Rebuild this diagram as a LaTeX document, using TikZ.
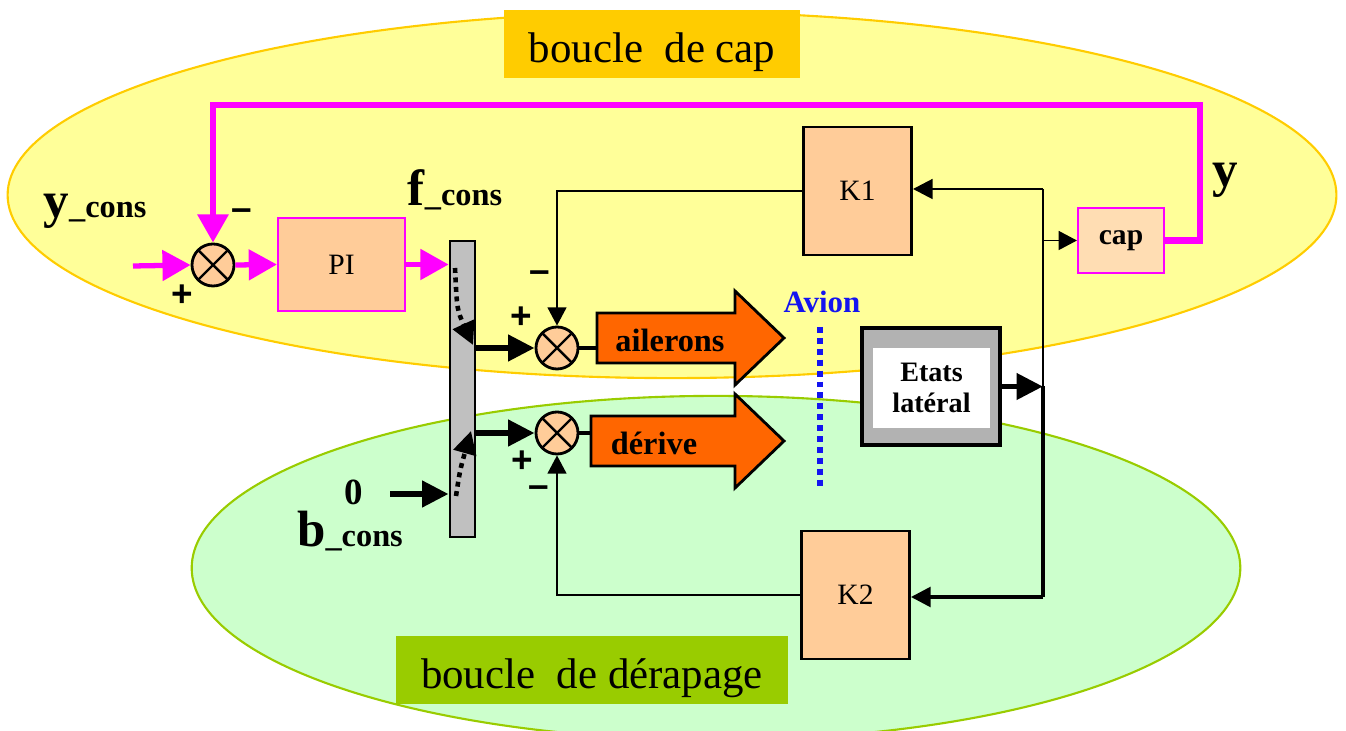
\documentclass[tikz,border=0pt]{standalone}
\usepackage{fontspec}
\setmainfont{Liberation Serif}
\newfontfamily\signfont{Liberation Sans}
\usetikzlibrary{
    arrows.meta,
    positioning,
    calc
}
\definecolor{capY}   {RGB}{255,255,153}
\definecolor{capEdge}{RGB}{255,204,  0}
\definecolor{derG}   {RGB}{204,255,204}
\definecolor{derEdge}{RGB}{153,204,  0}
\definecolor{mag}    {RGB}{255,  0,255}
\definecolor{peach}  {RGB}{255,204,153}
\definecolor{peachL} {RGB}{255,221,179}
\definecolor{surfC}  {RGB}{255,102,  0}
\definecolor{barG}   {RGB}{192,192,192}
\definecolor{etatG}  {RGB}{178,178,178}
\definecolor{avC}    {RGB}{ 20, 20,240}
\tikzset{
  gblock/.style = {draw, fill=peach, line width=0.8pt, minimum width=1.08cm,
                   minimum height=1.28cm, font=\fontsize{8.4}{10}\selectfont},
  mblock/.style = {draw=mag, line width=0.6pt, align=center},
  sumc/.style   = {draw, circle, fill=peach, line width=0.8pt, minimum size=0.42cm,
                   inner sep=0pt,
                   path picture={\draw[line width=0.7pt]
                     (path picture bounding box.north west) -- (path picture bounding box.south east)
                     (path picture bounding box.north east) -- (path picture bounding box.south west);}},
  tagbox/.style = {fill=#1, inner sep=0pt, text height=0.45cm, text depth=0.08cm,
                   font=\fontsize{12.2}{14}\selectfont},
  lbl/.style    = {font=\fontsize{9.2}{11}\selectfont\bfseries},
  sgn/.style    = {font=\signfont\bfseries\fontsize{10.5}{12}\selectfont},
  surftxt/.style= {font=\fontsize{9.2}{11}\selectfont\bfseries},
  arrm/.style   = {-{Triangle[length=8pt,width=8.5pt]}, mag, line width=1.5pt},
  arrk/.style   = {-{Triangle[length=7.5pt,width=7.2pt]}, line width=1.7pt},
  arrs/.style   = {-{Triangle[length=5.6pt,width=5.6pt]}, line width=0.8pt},
  arrt/.style   = {-{Triangle[length=5.2pt,width=5.4pt]}, line width=0.45pt},
  swdot/.style  = {line width=1.3pt, dash pattern=on 1.4pt off 1.3pt,
                   -{Triangle[length=6.5pt,width=6.5pt]}}
}
\newcommand{\bigch}[1]{{\fontsize{14.5}{14}\selectfont #1}}
% orange control-surface arrow: {left x}{centre y}{name}
\newcommand{\drawsurf}[3]{%
  \draw[fill=surfC, line width=0.8pt]
    (#1,#2-25) -- (735,#2-25) -- (735,#2-47) -- (784,#2)
    -- (735,#2+47) -- (735,#2+25) -- (#1,#2+25) -- cycle;
  \coordinate (#3) at (#1,#2);
}

\begin{document}
\begin{tikzpicture}[x=0.01cm, y=-0.01cm]
  \useasboundingbox (0,0) rectangle (1346,731);

  %% ── Loops ─────────────────────────────────────────────────────
  \filldraw[fill=capY, draw=capEdge, line width=0.6pt]
    (672,195) ellipse [x radius=6.64cm, y radius=1.83cm];
  \filldraw[fill=derG, draw=derEdge, line width=0.6pt]
    (716,568) ellipse [x radius=5.24cm, y radius=1.72cm];
  \node[tagbox=capEdge, minimum width=2.95cm, minimum height=0.68cm]
    (tagCap) at (652,44) {boucle~~de cap};
  \node[tagbox=derEdge, minimum width=3.92cm, minimum height=0.67cm]
    (tagDer) at (592,670) {boucle~~de dérapage};

  %% ── Blocks ────────────────────────────────────────────────────
  \node[sumc] (sumY) at (213,265) {};
  \node[mblock, fill=peach, minimum width=1.27cm, minimum height=0.93cm,
        font=\fontsize{8.4}{10}\selectfont] (PI) at (341.5,264.5) {PI};
  \node[draw, fill=barG, line width=0.8pt, minimum width=0.25cm,
        minimum height=2.96cm, inner sep=0pt] (bar) at (462.5,389) {};
  \node[sumc] (sumA) at (557,348) {};
  \node[sumc] (sumB) at (557,433) {};
  \node[gblock] (K1) at (857.5,191) {K1};
  \node[gblock] (K2) at (855.5,595) {K2};
  \node[mblock, fill=peachL, minimum width=0.86cm, minimum height=0.65cm,
        font=\fontsize{8.4}{10}\selectfont\bfseries] (cap) at (1121,240.5) {cap};
  \node[draw, fill=etatG, line width=0.9pt, minimum width=1.38cm,
        minimum height=1.17cm] (etats) at (931,386.5) {};
  \node[fill=white, minimum width=1.17cm, minimum height=0.80cm, align=center,
        inner sep=0pt, font=\fontsize{8}{8.6}\selectfont\bfseries]
    (etatsIn) at (931.5,388) {Etats\\latéral};

  %% ── Control surfaces ──────────────────────────────────────────
  \drawsurf{597}{338}{ailIn}
  \drawsurf{591}{441}{derIn}
  \node[surftxt] (ailT) at (670,340) {ailerons};
  \node[surftxt] (derT) at (654,443) {dérive};
  \node[font=\fontsize{8.8}{10}\selectfont\bfseries, text=avC] (avion) at (822,302) {Avion};
  \coordinate (avTop) at (820,327);
  \coordinate (avBot) at (820,488);
  \draw[avC, line width=1.7pt, dash pattern=on 1.7pt off 1.4pt] (avTop) -- (avBot);

  %% ── Labels ────────────────────────────────────────────────────
  \node[lbl] (yc)   at (95,211)   {\bigch{y}\_cons};
  \node[lbl] (fc)   at (455,190)  {\bigch{f}\_cons};
  \node[lbl] (bc)   at (350,531)  {\bigch{b}\_cons};
  \node[lbl, font=\fontsize{10.5}{12}\selectfont\bfseries] (zero) at (354,492) {0};
  \node[lbl] (ylab) at (1225,180) {\bigch{y}};
  \node[sgn] (mY) at (242,215) {–};
  \node[sgn] (pY) at (182,296) {+};
  \node[sgn] (pA) at (521,318) {+};
  \node[sgn] (mA) at (540,277) {–};
  \node[sgn] (pB) at (522,462) {+};
  \node[sgn] (mB) at (539,492) {–};

  %% ── Heading loop (magenta) ────────────────────────────────────
  \coordinate (yin)   at (133,266);
  \coordinate (loopR) at (1200,105);
  \draw[arrm] (yin) -- (sumY.west);
  \draw[arrm] (sumY.east) -- (PI.west);
  \draw[arrm] (PI.east) -- (PI.east -| bar.west);
  \draw[arrm, line width=1.8pt] (cap.east) -| (loopR) -| (sumY.north);

  %% ── Switch ────────────────────────────────────────────────────
  \coordinate (swA1) at (455,268);
  \coordinate (swA2) at (473,345);
  \coordinate (swB1) at (456,496);
  \coordinate (swB2) at (471,431);
  \draw[swdot] (swA1) .. controls (457,310) .. (swA2);
  \draw[swdot] (swB1) .. controls (460,470) .. (swB2);
  \coordinate (zin) at (390,494);
  \draw[arrk] (zin) -- (zin -| bar.west);
  \draw[arrk] (sumA.west -| bar.east) -- (sumA.west);
  \draw[arrk] (sumB.west -| bar.east) -- (sumB.west);
  \draw[line width=1pt] (sumA.east) -- (sumA.east -| ailIn);
  \draw[line width=1pt] (sumB.east) -- (sumB.east -| derIn);

  %% ── State feedback ────────────────────────────────────────────
  \coordinate (tapTop) at (1043,189);
  \coordinate (tapMid) at (etats.east -| tapTop);
  \coordinate (tapBot) at (1043,597);
  \draw[arrk] (etats.east) -- (tapMid);
  \draw[line width=0.5pt] (tapTop) -- (tapMid);
  \draw[line width=1.1pt] (tapMid) -- (tapBot);
  \draw[arrs] (tapTop) -- (tapTop -| K1.east);
  \draw[arrs, line width=1pt] (tapBot) -- (tapBot -| K2.east);
  \draw[arrt] (tapTop |- cap.west) -- (cap.west);
  \draw[arrt] (K1.west) -| (sumA.north);
  \draw[arrt] (K2.west) -| (sumB.south);

\end{tikzpicture}
\end{document}
